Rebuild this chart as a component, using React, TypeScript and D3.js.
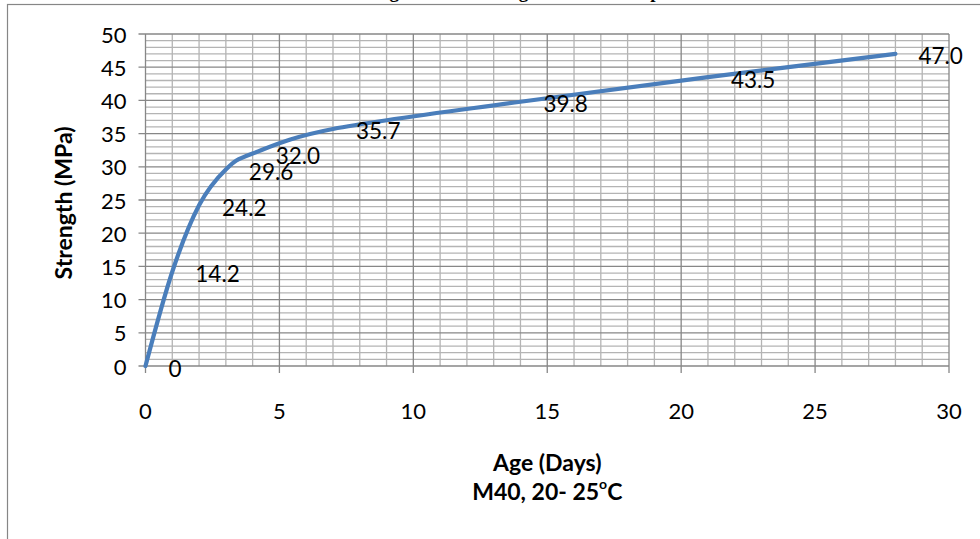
import React from "react";
import * as d3 from "d3";

// Compressive strength of M40 concrete cured at 20–25 °C
const ageDays = [0, 1, 2, 3, 4, 7, 14, 21, 28];
const strengthMPa = [0, 14.2, 24.2, 29.6, 32.0, 35.7, 39.8, 43.5, 47.0];
const strengthLabels = ["0", "14.2", "24.2", "29.6", "32.0", "35.7", "39.8", "43.5", "47.0"];
const xTicks = [0, 5, 10, 15, 20, 25, 30];
const yTicks = [0, 5, 10, 15, 20, 25, 30, 35, 40, 45, 50];

const W = 980;
const H = 539;
const plot = { left: 145.5, right: 949, top: 34, bottom: 366 };

const FONT = "Lato, 'Open Sans', sans-serif";

export default function App() {
  const x = d3.scaleLinear().domain([0, 30]).range([plot.left, plot.right]);
  const y = d3.scaleLinear().domain([0, 50]).range([plot.bottom, plot.top]);

  const points = ageDays.map((d, i) => [d, strengthMPa[i]] as [number, number]);
  const line = d3
    .line<[number, number]>()
    .x((d) => x(d[0]))
    .y((d) => y(d[1]))
    .curve(d3.curveCardinal.tension(0));

  const minorX = d3.range(0, 31, 1).filter((v) => v % 5 !== 0);
  const minorY = d3.range(0, 51, 1).filter((v) => v % 5 !== 0);

  return (
    <div style={{ position: "fixed", left: 0, top: 0, width: W, height: H, background: "#fff" }}>
      <svg width={W} height={H} viewBox={`0 0 ${W} ${H}`} style={{ display: "block" }}>
        <rect x={0} y={0} width={W} height={H} fill="#fff" />
        {/* chart title, mostly above the frame */}
        <text
          x={533}
          y={-2}
          textAnchor="middle"
          fontFamily="'Liberation Serif', 'Times New Roman', serif"
          fontWeight="bold"
          fontSize={19}
          fill="#000"
        >
          Strength Gain with Age at Room Temperature
        </text>
        {/* chart frame */}
        <rect x={7.5} y={4.5} width={1000} height={600} fill="none" stroke="#868686" strokeWidth={1.2} />

        {/* minor gridlines */}
        <g stroke="#b4b4b4" strokeWidth={1.3}>
          {minorX.map((v) => (
            <line key={"mx" + v} x1={x(v)} x2={x(v)} y1={plot.top} y2={plot.bottom} />
          ))}
          {minorY.map((v) => (
            <line key={"my" + v} x1={plot.left} x2={plot.right} y1={y(v)} y2={y(v)} />
          ))}
        </g>
        {/* major gridlines */}
        <g stroke="#878787" strokeWidth={1.3}>
          {xTicks.map((v) => (
            <line key={"Mx" + v} x1={x(v)} x2={x(v)} y1={plot.top} y2={plot.bottom + 7} />
          ))}
          {yTicks.map((v) => (
            <line key={"My" + v} x1={plot.left - 7} x2={plot.right} y1={y(v)} y2={y(v)} />
          ))}
        </g>

        {/* tick labels */}
        <g fontFamily={FONT} fontSize={22} fill="#000">
          {yTicks.map((v) => (
            <text key={"yl" + v} x={plot.left - 19} y={y(v)} textAnchor="end" dominantBaseline="central">
              {v}
            </text>
          ))}
          {xTicks.map((v) => (
            <text key={"xl" + v} x={x(v)} y={plot.bottom + 44} textAnchor="middle" dominantBaseline="central">
              {v}
            </text>
          ))}
        </g>

        {/* strength curve */}
        <path d={line(points) ?? ""} fill="none" stroke="#4a7ebb" strokeWidth={4.2} strokeLinecap="round" />

        {/* value labels */}
        <g fontFamily={FONT} fontSize={22.5} fill="#000">
          {points.map((p, i) => (
            <text key={"dl" + i} x={x(p[0]) + 23} y={y(p[1]) + 2} dominantBaseline="central">
              {strengthLabels[i]}
            </text>
          ))}
        </g>

        {/* axis titles */}
        <g fontFamily={FONT} fontWeight="bold" fontSize={23} fill="#000" textAnchor="middle">
          <text transform={`translate(63, ${(plot.top + plot.bottom) / 2 + 3}) rotate(-90)`} dominantBaseline="central">
            Strength (MPa)
          </text>
          <text x={(plot.left + plot.right) / 2} y={462} dominantBaseline="central">
            Age (Days)
          </text>
          <text x={(plot.left + plot.right) / 2} y={491} dominantBaseline="central">
            M40, 20- 25<tspan fontSize={14} dy={-8}>o</tspan>
            <tspan dy={8}>C</tspan>
          </text>
        </g>
      </svg>
    </div>
  );
}
